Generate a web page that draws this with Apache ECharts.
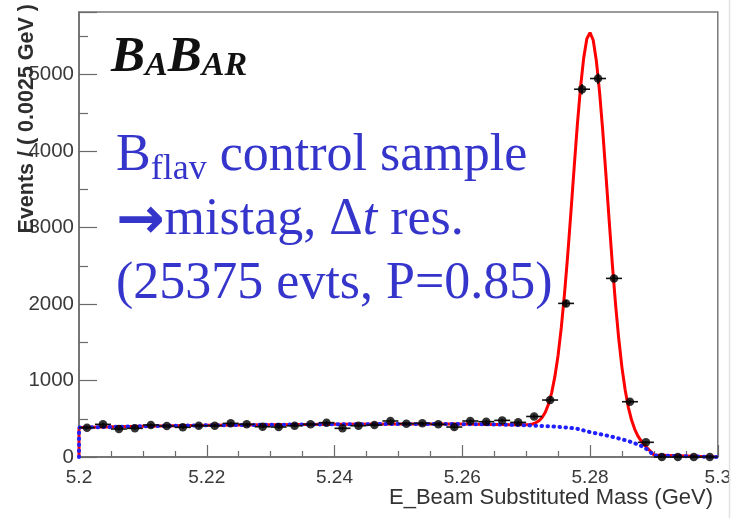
<!DOCTYPE html>
<html>
<head>
<meta charset="utf-8">
<script src="https://cdn.jsdelivr.net/npm/echarts@6/dist/echarts.min.js"></script>
<style>
  html, body { margin: 0; padding: 0; background: #ffffff; }
  #chart { width: 734px; height: 518px; }
</style>
</head>
<body>
<div id="chart"></div>
<script>
// Bin centres of the mES histogram (0.0025 GeV bins from 5.20 to 5.30 GeV)
const binCenters = [
  5.20125, 5.20375, 5.20625, 5.20875, 5.21125, 5.21375, 5.21625, 5.21875, 5.22125, 5.22375,
  5.22625, 5.22875, 5.23125, 5.23375, 5.23625, 5.23875, 5.24125, 5.24375, 5.24625, 5.24875,
  5.25125, 5.25375, 5.25625, 5.25875, 5.26125, 5.26375, 5.26625, 5.26875, 5.27125, 5.27375,
  5.27625, 5.27875, 5.28125, 5.28375, 5.28625, 5.28875, 5.29125, 5.29375, 5.29625, 5.29875
];
// Events per bin
const binEvents = [
  383, 427, 366, 375, 418, 405, 388, 409, 409, 440,
  427, 396, 392, 409, 427, 449, 375, 409, 418, 471,
  436, 440, 427, 392, 471, 462, 479, 453, 530, 745,
  2009, 4810, 4950, 2336, 723, 192, 0, 0, 0, 0
];
const binHalfWidth = 0.00125;

// Total fit (signal Gaussian + ARGUS background), sampled along mES
const fitMass = [
  5.2, 5.2, 5.21, 5.22, 5.23, 5.24, 5.25, 5.26, 5.265, 5.268,
  5.270, 5.2705, 5.271, 5.2715, 5.272, 5.2725, 5.273, 5.2735, 5.274, 5.2745,
  5.275, 5.2755, 5.276, 5.2765, 5.277, 5.2775, 5.278, 5.2785, 5.279, 5.2795,
  5.280, 5.2805, 5.281, 5.2815, 5.282, 5.2825, 5.283, 5.2835, 5.284, 5.2845,
  5.285, 5.2855, 5.286, 5.2865, 5.287, 5.2875, 5.288, 5.2885, 5.289, 5.2895,
  5.290, 5.2903, 5.3
];
const fitTotal = [
  0, 385, 402, 414, 422, 428, 431, 430, 426, 421,
  422, 425, 432, 447, 473, 516, 586, 691, 842, 1054,
  1332, 1692, 2129, 2635, 3194, 3770, 4330, 4824, 5214, 5470,
  5550, 5450, 5175, 4766, 4254, 3679, 3087, 2514, 1994, 1543,
  1169, 877, 650, 483, 362, 273, 210, 159, 115, 71,
  26, 0, 0
];

// ARGUS background component
const bkgMass = [
  5.2, 5.2, 5.21, 5.22, 5.23, 5.24, 5.25, 5.26, 5.265, 5.268,
  5.270, 5.272, 5.274, 5.276, 5.277, 5.278, 5.279, 5.280, 5.281, 5.282,
  5.283, 5.284, 5.285, 5.286, 5.287, 5.2875, 5.288, 5.2885, 5.289, 5.2895,
  5.290, 5.2903, 5.3
];
const bkgValue = [
  0, 385, 402, 414, 422, 428, 431, 430, 426, 420,
  416, 408, 400, 388, 380, 368, 348, 325, 309, 292,
  273, 253, 231, 208, 180, 163, 145, 122, 95, 60,
  20, 0, 0
];

const xTicks = { min: 5.2, max: 5.3, step: 0.02 };
const yTicks = { min: 0, max: 5820, step: 1000 };

const pts = binCenters.map((m, i) => [m, binEvents[i]]);
const errs = binCenters.map((m, i) => [m, binEvents[i], Math.sqrt(binEvents[i]), binHalfWidth]);
const total = fitMass.map((m, i) => [m, fitTotal[i]]);
const bkg = bkgMass.map((m, i) => [m, bkgValue[i]]);

const chart = echarts.init(document.getElementById('chart'), null, { renderer: 'canvas' });

const axisGrey = '#6a6a6a';
const labelFont = '"Liberation Sans", Arial, Helvetica, sans-serif';
const serif = '"Liberation Serif", "Times New Roman", serif';
const blueText = '#3535cc';

chart.setOption({
  animation: false,
  backgroundColor: '#ffffff',
  grid: {
    left: 79, right: 16, top: 12, bottom: 61,
    show: true, borderColor: '#7a7a7a', borderWidth: 1.5, backgroundColor: 'transparent'
  },
  xAxis: {
    type: 'value',
    min: xTicks.min, max: xTicks.max, interval: xTicks.step,
    axisLine: { show: true, onZero: false, lineStyle: { color: axisGrey, width: 1.5 } },
    axisTick: { show: true, inside: true, length: 12, lineStyle: { color: axisGrey, width: 1.2 } },
    minorTick: { show: true, splitNumber: 4, length: 6, lineStyle: { color: axisGrey, width: 1.2 } },
    splitLine: { show: false },
    axisLabel: {
      margin: 11, fontSize: 19, color: '#3a3a3a', fontFamily: labelFont,
      formatter: v => String(parseFloat(v.toFixed(2)))
    }
  },
  yAxis: {
    type: 'value',
    min: yTicks.min, max: yTicks.max, interval: yTicks.step,
    axisLine: { show: true, onZero: false, lineStyle: { color: axisGrey, width: 1.5 } },
    axisTick: { show: true, inside: true, length: 18, lineStyle: { color: axisGrey, width: 1.2 } },
    minorTick: { show: true, splitNumber: 2, length: 9, lineStyle: { color: axisGrey, width: 1.2 } },
    splitLine: { show: false },
    axisLabel: {
      margin: 5, fontSize: 20.5, color: '#3a3a3a', fontFamily: labelFont,
      showMaxLabel: false,
      formatter: v => String(Math.round(v))
    }
  },
  series: [
    {
      name: 'total fit',
      type: 'line',
      data: total,
      showSymbol: false,
      smooth: false,
      lineStyle: { color: '#ff0000', width: 3 },
      z: 2
    },
    {
      name: 'background',
      type: 'line',
      data: bkg,
      showSymbol: false,
      smooth: false,
      lineStyle: { color: '#1f1fff', width: 4, type: [0.5, 5.5], cap: 'round' },
      z: 3
    },
    {
      name: 'errors',
      type: 'custom',
      data: errs,
      renderItem: (params, api) => {
        const x = api.value(0), y = api.value(1), ey = api.value(2), hw = api.value(3);
        const l = api.coord([x - hw, y]);
        const r = api.coord([x + hw, y]);
        const t = api.coord([x, y + ey]);
        const b = api.coord([x, y - ey]);
        const st = { stroke: '#111', lineWidth: 1.6 };
        return {
          type: 'group',
          children: [
            { type: 'line', shape: { x1: l[0], y1: l[1], x2: r[0], y2: r[1] }, style: st },
            { type: 'line', shape: { x1: t[0], y1: t[1], x2: b[0], y2: b[1] }, style: st }
          ]
        };
      },
      z: 4
    },
    {
      name: 'data',
      type: 'scatter',
      data: pts,
      symbol: 'circle',
      symbolSize: 8.5,
      itemStyle: { color: '#000000' },
      z: 5
    }
  ],
  graphic: [
    {
      type: 'line',
      shape: { x1: 729.5, y1: 0, x2: 729.5, y2: 518 },
      style: { stroke: '#e2e2e2', lineWidth: 1.5 },
      z: 1
    },
    {
      type: 'text',
      x: 27, y: 4,
      rotation: Math.PI / 2,
      style: {
        text: 'Events / ( 0.0025 GeV )',
        fontSize: 21.5, fontWeight: 'bold', fontFamily: labelFont,
        fill: '#2e2e2e', align: 'right', verticalAlign: 'middle'
      },
      z: 10
    },
    {
      type: 'text',
      right: 21, top: 487,
      style: {
        text: 'E_Beam Substituted Mass (GeV)',
        fontSize: 22, fontFamily: labelFont, fill: '#333333'
      },
      z: 10
    },
    {
      type: 'text',
      x: 111, y: 83,
      style: {
        text: '{b|B}{s|A}{b|B}{s|AR}',
        verticalAlign: 'bottom',
        rich: {
          b: { fontSize: 51, fontFamily: serif, fontStyle: 'italic', fontWeight: 'bold', fill: '#111', verticalAlign: 'bottom', lineHeight: 52 },
          s: { fontSize: 34, fontFamily: serif, fontStyle: 'italic', fontWeight: 'bold', fill: '#111', verticalAlign: 'bottom', lineHeight: 40 }
        }
      },
      z: 10
    },
    {
      type: 'text',
      x: 116, y: 124,
      style: {
        text: '{m|B}{s|flav}{m| control sample}\n{a|→}{m|mistag, Δ}{i|t}{m| res.}\n{m|(25375 evts, P=0.85)}',
        verticalAlign: 'top',
        rich: {
          m: { fontSize: 52, fontFamily: serif, fill: blueText, lineHeight: 64 },
          s: { fontSize: 36, fontFamily: serif, fill: blueText, lineHeight: 44, verticalAlign: 'bottom' },
          i: { fontSize: 52, fontFamily: serif, fontStyle: 'italic', fill: blueText, lineHeight: 64 },
          a: { fontSize: 58, fontFamily: '"DejaVu Sans", sans-serif', fontWeight: 'bold', fill: blueText, lineHeight: 60, verticalAlign: 'bottom' }
        }
      },
      z: 10
    }
  ]
});
</script>
</body>
</html>
